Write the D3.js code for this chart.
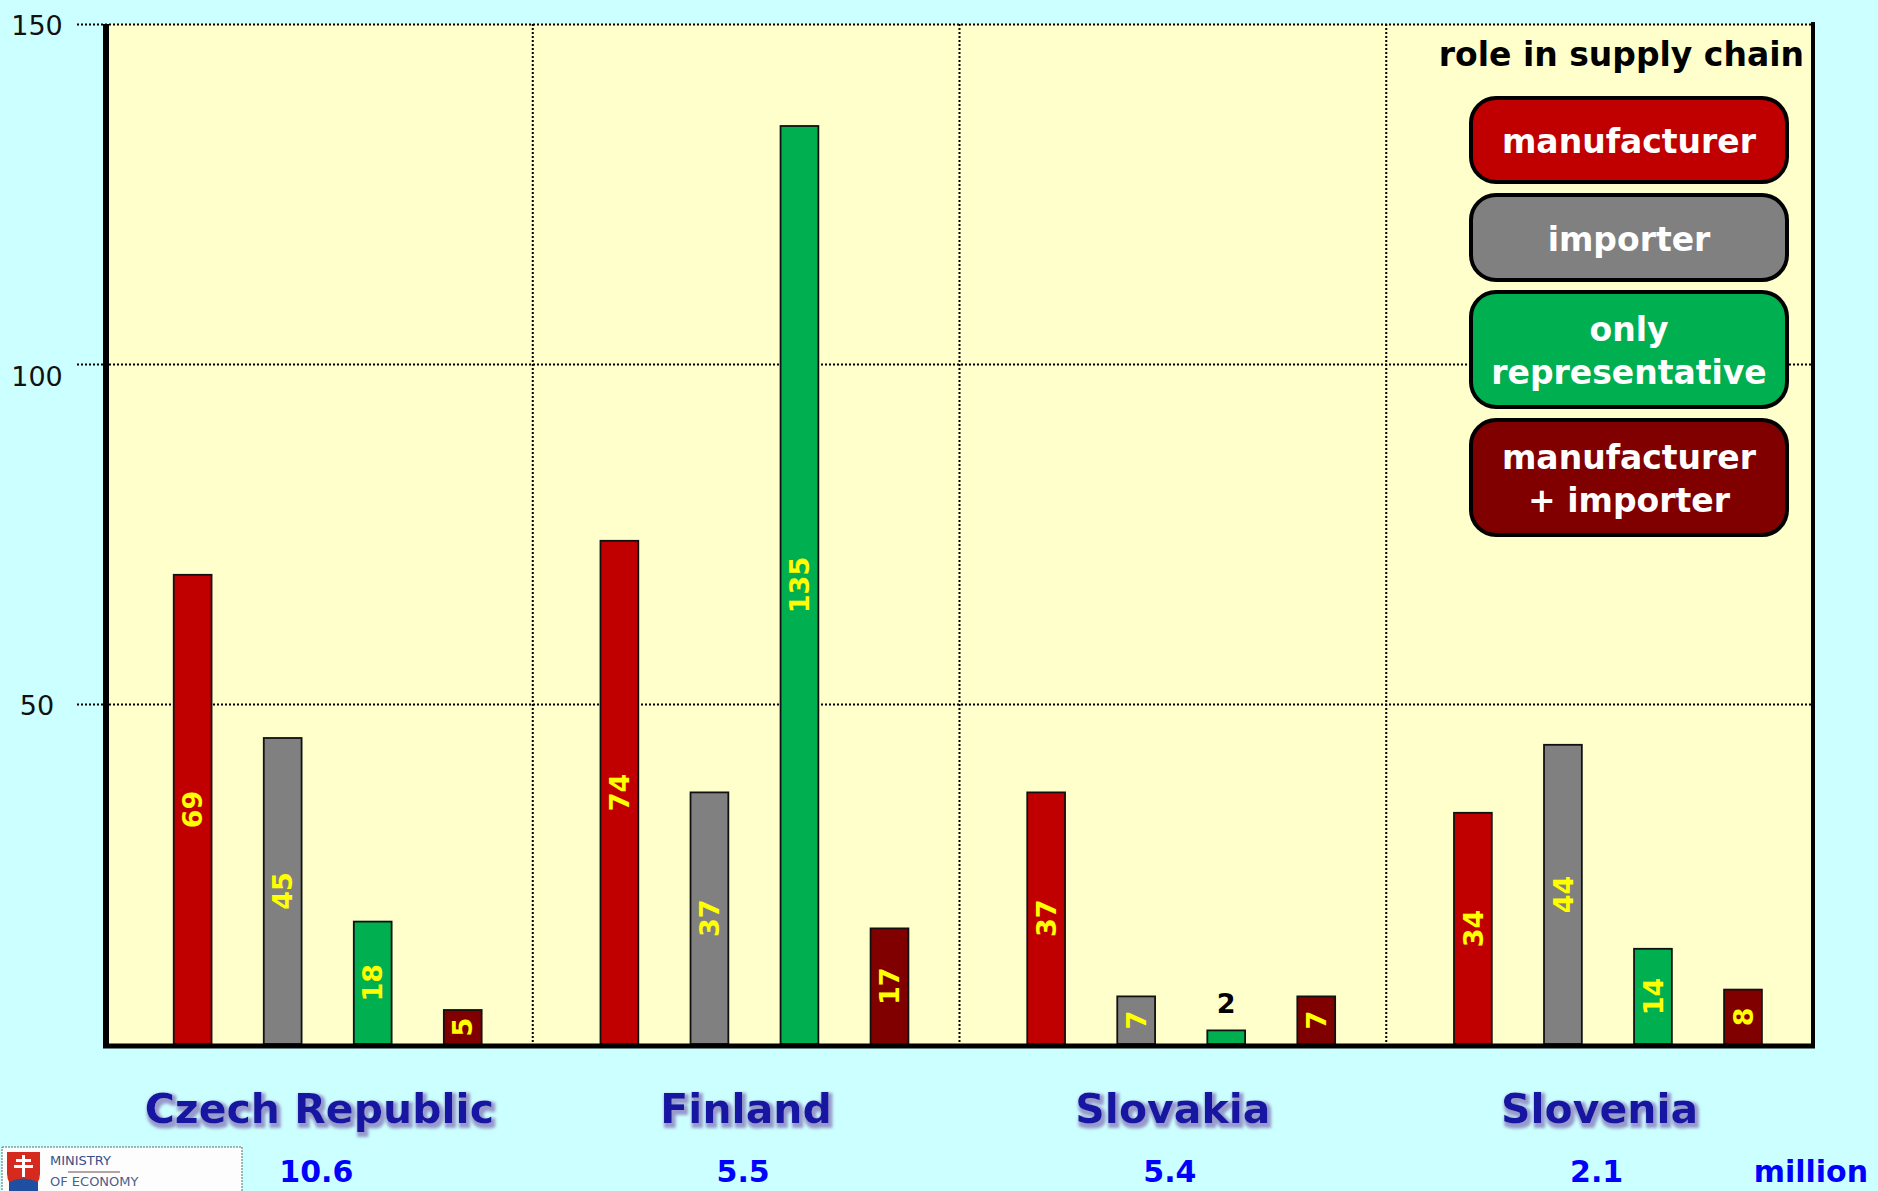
<!DOCTYPE html>
<html>
<head>
<meta charset="utf-8">
<script src="https://cdn.jsdelivr.net/npm/d3@7"></script>
<style>
  body { margin: 0; background: #ccffff; }
  svg { display: block; }
</style>
</head>
<body>
<div id="chart"></div>
<script>
const countries = ["Czech Republic", "Finland", "Slovakia", "Slovenia"];
const population = ["10.6", "5.5", "5.4", "2.1"];
const roles = ["manufacturer", "importer", "only representative", "manufacturer + importer"];
const roleLines = [["manufacturer"], ["importer"], ["only", "representative"], ["manufacturer", "+ importer"]];
const roleColors = ["#c00000", "#808080", "#00b050", "#800000"];
const manufacturer = [69, 74, 37, 34];
const importer = [45, 37, 7, 44];
const onlyRepresentative = [18, 135, 2, 14];
const manufacturerImporter = [5, 17, 7, 8];
const yTicks = [50, 100, 150];

const width = 1878;
const height = 1191;
const plot = { left: 106, right: 1813, top: 24, bottom: 1044 };

const series = [manufacturer, importer, onlyRepresentative, manufacturerImporter];
const rows = [];
countries.forEach((c, ci) => {
    roles.forEach((r, ri) => rows.push({ country: c, role: r, ri: ri, value: series[ri][ci] }));
});

const svg = d3.select("#chart")
    .append("svg")
    .attr("width", width)
    .attr("height", height)
    .style("font-family", "'DejaVu Sans', Verdana, sans-serif");

// soft lavender halo + drop shadow for the country names
const defs = svg.append("defs");
const shadow = defs.append("filter").attr("id", "shadow")
    .attr("x", "-10%").attr("y", "-30%").attr("width", "130%").attr("height", "170%");
shadow.append("feMorphology").attr("in", "SourceAlpha").attr("operator", "dilate").attr("radius", 1.5).attr("result", "fat");
shadow.append("feGaussianBlur").attr("in", "fat").attr("stdDeviation", 1.8).attr("result", "blur");
shadow.append("feOffset").attr("in", "blur").attr("dx", 2).attr("dy", 3).attr("result", "off");
shadow.append("feFlood").attr("flood-color", "#9494c8").attr("flood-opacity", 0.95);
shadow.append("feComposite").attr("in2", "off").attr("operator", "in");
const merge = shadow.append("feMerge");
merge.append("feMergeNode");
merge.append("feMergeNode").attr("in", "SourceGraphic");

const x0 = d3.scaleBand()
    .domain(countries)
    .range([plot.left, plot.right]);

const x1 = d3.scaleBand()
    .domain(roles)
    .range([0, x0.bandwidth()])
    .paddingInner(0.58)
    .paddingOuter(0.66)
    .align(0.57);

const y = d3.scaleLinear()
    .domain([0, 150])
    .range([plot.bottom, plot.top]);

// plot background
svg.append("rect")
    .attr("x", plot.left).attr("y", plot.top)
    .attr("width", plot.right - plot.left).attr("height", plot.bottom - plot.top)
    .attr("fill", "#ffffcc");

// horizontal grid + tick labels
const yAxis = svg.append("g")
    .attr("transform", `translate(77,0)`)
    .call(d3.axisLeft(y).tickValues(yTicks).tickSize(-(plot.right - 77)).tickPadding(0));
yAxis.select(".domain").remove();
yAxis.selectAll(".tick line")
    .attr("stroke", "#000").attr("stroke-width", 2).attr("stroke-dasharray", "2,2");
yAxis.selectAll(".tick text")
    .attr("x", -40)
    .attr("dy", d => d === 100 ? "0.8em" : "0.4em")  // the 100 label sits under its line in the original
    .attr("text-anchor", "middle")
    .attr("font-size", 27).attr("fill", "#111")
    .style("font-family", "'DejaVu Sans', sans-serif");

// vertical separators between countries
svg.append("g")
    .selectAll("line")
    .data(countries.slice(1))
    .join("line")
        .attr("x1", d => x0(d)).attr("x2", d => x0(d))
        .attr("y1", plot.top).attr("y2", plot.bottom)
        .attr("stroke", "#000").attr("stroke-width", 2).attr("stroke-dasharray", "2,2");

// bars
svg.append("g")
    .selectAll("rect")
    .data(rows)
    .join("rect")
        .attr("x", d => x0(d.country) + x1(d.role))
        .attr("y", d => y(d.value))
        .attr("width", x1.bandwidth())
        .attr("height", d => y(0) - y(d.value))
        .attr("fill", d => roleColors[d.ri])
        .attr("stroke", "#111").attr("stroke-width", 1.8);

// value labels
const labels = svg.append("g")
    .attr("font-weight", "bold")
    .attr("font-size", 27);

labels.selectAll("text.inside")
    .data(rows.filter(d => d.value >= 4))
    .join("text")
        .attr("class", "inside")
        .attr("transform", d => {
            const cx = x0(d.country) + x1(d.role) + x1.bandwidth() / 2;
            const cy = (y(d.value) + y(0)) / 2;
            return `translate(${cx},${cy}) rotate(-90)`;
        })
        .attr("text-anchor", "middle")
        .attr("dy", "0.36em")
        .attr("fill", "#ffff00")
        .text(d => d.value);

labels.selectAll("text.outside")
    .data(rows.filter(d => d.value < 4))
    .join("text")
        .attr("class", "outside")
        .attr("x", d => x0(d.country) + x1(d.role) + x1.bandwidth() / 2)
        .attr("y", d => y(d.value) - 17)
        .attr("text-anchor", "middle")
        .attr("fill", "#000")
        .text(d => d.value);

// axis frame
svg.append("line")
    .attr("x1", plot.left).attr("x2", plot.left)
    .attr("y1", plot.top).attr("y2", plot.bottom + 4)
    .attr("stroke", "#000").attr("stroke-width", 6);
svg.append("line")
    .attr("x1", plot.left - 3).attr("x2", plot.right + 2)
    .attr("y1", plot.bottom + 2).attr("y2", plot.bottom + 2)
    .attr("stroke", "#000").attr("stroke-width", 5);
svg.append("line")
    .attr("x1", plot.right).attr("x2", plot.right)
    .attr("y1", plot.top - 2).attr("y2", plot.bottom + 4)
    .attr("stroke", "#000").attr("stroke-width", 4);

// country names and population
svg.append("g")
    .selectAll("text")
    .data(countries)
    .join("text")
        .attr("x", d => x0(d) + x0.bandwidth() / 2)
        .attr("y", 1123)
        .attr("text-anchor", "middle")
        .attr("font-size", 41).attr("font-weight", "bold")
        .attr("fill", "#1515a3")
        .attr("filter", "url(#shadow)")
        .text(d => d);

svg.append("g")
    .selectAll("text")
    .data(population)
    .join("text")
        .attr("x", (d, i) => x0(countries[i]) + x0.bandwidth() / 2 - 3)
        .attr("y", 1182)
        .attr("text-anchor", "middle")
        .attr("font-size", 30).attr("font-weight", "bold")
        .attr("fill", "#0000ff")
        .text(d => d);

svg.append("text")
    .attr("x", 1868).attr("y", 1182)
    .attr("text-anchor", "end")
    .attr("font-size", 30).attr("font-weight", "bold")
    .attr("fill", "#0000ff")
    .text("million");

// legend
const legend = svg.append("g");
legend.append("text")
    .attr("x", 1804).attr("y", 66)
    .attr("text-anchor", "end")
    .attr("font-size", 33).attr("font-weight", "bold")
    .attr("fill", "#000")
    .text("role in supply chain");

const boxTops = [98, 195, 292, 420];
const boxHeights = [84, 85, 115, 115];
const item = legend.selectAll("g.item")
    .data(roles)
    .join("g")
        .attr("class", "item");
item.append("rect")
    .attr("x", 1471).attr("y", (d, i) => boxTops[i])
    .attr("width", 316).attr("height", (d, i) => boxHeights[i])
    .attr("rx", 25).attr("ry", 25)
    .attr("fill", (d, i) => roleColors[i])
    .attr("stroke", "#000").attr("stroke-width", 4);
item.each(function(d, i) {
    const lines = roleLines[i];
    const cy = boxTops[i] + boxHeights[i] / 2;
    const lh = 43;
    d3.select(this).selectAll("text")
        .data(lines)
        .join("text")
            .attr("x", 1629)
            .attr("y", (t, j) => cy + (j - (lines.length - 1) / 2) * lh + 13)
            .attr("text-anchor", "middle")
            .attr("font-size", 33).attr("font-weight", "bold")
            .attr("fill", "#fff")
            .text(t => t);
});

// ministry logo
const logo = svg.append("g");
logo.append("rect")
    .attr("x", 2).attr("y", 1147).attr("width", 240).attr("height", 50)
    .attr("fill", "#fdfdfd").attr("stroke", "#666").attr("stroke-width", 1).attr("stroke-dasharray", "2,1");
logo.append("path")
    .attr("d", "M7,1152 H40 V1174 Q40,1187 23.5,1193 Q7,1187 7,1174 Z")
    .attr("fill", "#d52b1e");
logo.append("path")
    .attr("d", "M9,1182 Q23.5,1175 38,1182 L38,1191 H9 Z")
    .attr("fill", "#1f4fa0");
logo.append("path")
    .attr("d", "M22,1155 h3 v4 h6 v3 h-6 v3 h8 v3 h-8 v9 h-3 v-9 h-8 v-3 h8 v-3 h-6 v-3 h6 Z")
    .attr("fill", "#fff");
logo.append("text")
    .attr("x", 50).attr("y", 1165)
    .attr("font-size", 13).attr("fill", "#34508a")
    .style("font-family", "'DejaVu Sans', sans-serif")
    .text("MINISTRY");
logo.append("line")
    .attr("x1", 68).attr("x2", 120).attr("y1", 1172).attr("y2", 1172)
    .attr("stroke", "#6a4a4a").attr("stroke-width", 1);
logo.append("text")
    .attr("x", 50).attr("y", 1186)
    .attr("font-size", 13).attr("fill", "#4a5f8a")
    .style("font-family", "'DejaVu Sans', sans-serif")
    .text("OF ECONOMY");

svg.node();
</script>
</body>
</html>
